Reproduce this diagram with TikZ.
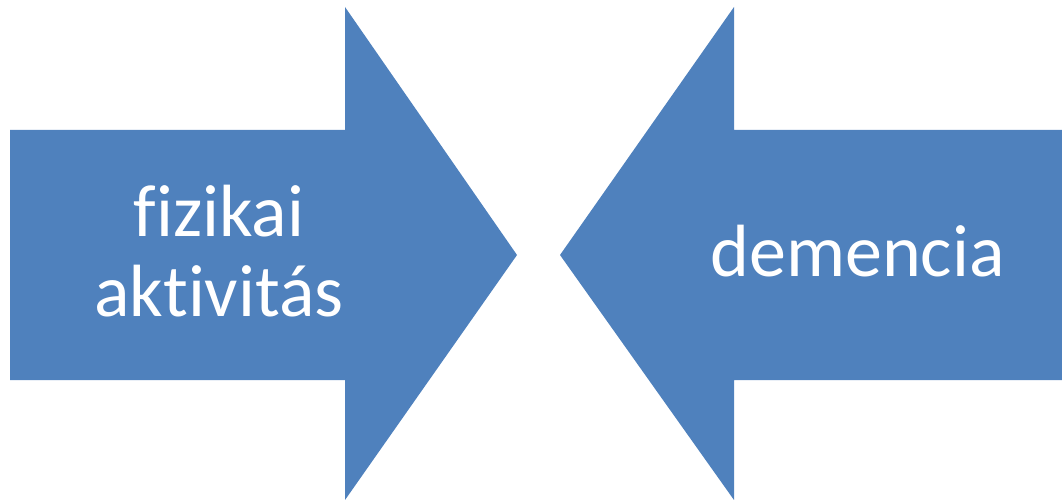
\documentclass[tikz,border=0pt]{standalone}
\usepackage{fontspec}
\setmainfont{Carlito}[Ligatures={NoCommon,NoContextual}]
\definecolor{arrowblue}{HTML}{4F81BD}
\tikzset{
  arrowshape/.style={fill=arrowblue, draw=none},
  label/.style={text=white, font=\fontsize{74}{80}\selectfont, inner sep=0pt, anchor=base}
}
\begin{document}
\begin{tikzpicture}[x=1pt, y=-1pt]
  \useasboundingbox (0,0) rectangle (1062,500);
  % right-pointing arrow
  \fill[arrowshape] (10,130) -- (345,130) -- (345,7) -- (517,255) -- (345,500)
        -- (345,380) -- (10,380) -- cycle;
  % left-pointing arrow
  \fill[arrowshape] (1062,130) -- (734,130) -- (734,7) -- (560,255) -- (734,500)
        -- (734,380) -- (1062,380) -- cycle;
  \node[label] (fiz) at (219,236) {fizikai};
  \node[label] (akt) at (219,316) {aktivitás};
  \node[label] (dem) at (857.5,276) {demencia};
\end{tikzpicture}
\end{document}
